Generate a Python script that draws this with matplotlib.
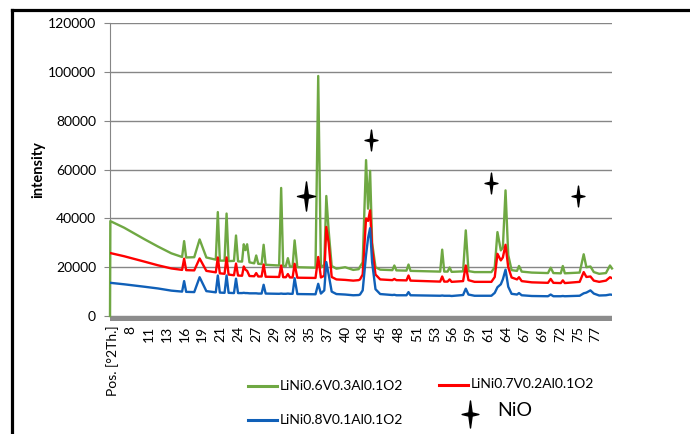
import matplotlib
matplotlib.use('Agg')
import matplotlib.pyplot as plt
import numpy as np
from matplotlib.path import Path
from matplotlib.patches import Rectangle
from matplotlib.lines import Line2D

plt.rcParams['font.family'] = ['Lato', 'DejaVu Sans']

# 2-theta positions (deg) shared by the three patterns
two_theta = [4.90, 4.95, 7.0, 10.0, 12.0, 14.0, 15.6, 15.9, 16.2, 17.4, 18.2, 19.2,
             20.6, 20.9, 21.2, 21.9, 22.2, 22.5, 23.3, 23.6, 23.9, 24.5, 24.75, 25.0,
             25.25, 25.6, 26.3, 26.6, 26.9, 27.4, 27.7, 28.0, 30.0, 30.3, 30.6, 31.0,
             31.3, 31.6, 32.0, 32.3, 32.7, 35.4, 35.8, 36.2, 36.7, 37.0, 37.35, 37.8,
             38.5, 39.8, 41.0, 41.8, 42.0, 42.4, 42.9, 43.2, 43.5, 43.8, 44.3, 45.0,
             46.8, 47.1, 47.4, 48.9, 49.2, 49.5, 53.9, 54.2, 54.5, 55.0, 55.3, 55.6,
             57.3, 57.7, 58.1, 59.0, 61.5, 62.0, 62.4, 62.9, 63.2, 63.6, 64.0, 64.5,
             65.3, 65.6, 66.0, 67.5, 69.9, 70.3, 70.7, 71.8, 72.1, 72.4, 74.6, 75.2,
             75.6, 76.2, 76.7, 77.5, 78.5, 79.1, 79.4]

green = [0, 38900, 36200, 31500, 28500, 25700, 24200, 30700, 24000, 24100, 31400, 24000,
         23100, 42600, 22700, 22700, 42000, 22500, 22600, 33000, 22400, 22300, 29400, 27000,
         29400, 22000, 21600, 24800, 21400, 21300, 29200, 21000, 20700, 52500, 20500, 20500,
         23700, 20300, 20300, 31000, 20000, 19800, 98400, 19900, 21000, 49200, 35000, 20500,
         19400, 20000, 18900, 19200, 20200, 22000, 63900, 44000, 59500, 30000, 20000, 19000,
         18800, 20700, 18700, 18600, 21100, 18500, 18200, 27200, 18200, 18200, 19900, 18100,
         18300, 35100, 18400, 18000, 18000, 20000, 34400, 26900, 28000, 51500, 25000, 18800,
         18500, 20500, 18200, 17800, 17600, 19800, 17600, 17500, 20500, 17500, 17800, 25300,
         20000, 20300, 18000, 17300, 17600, 20700, 19500]

red = [25800, 25800, 24500, 22300, 20800, 19500, 18900, 23500, 18800, 18700, 23600, 18500,
       17900, 24000, 17500, 17300, 24000, 17000, 16700, 21500, 16600, 16500, 20300, 19000,
       18500, 16400, 16300, 17600, 16200, 16200, 21100, 16100, 16000, 20700, 15900, 15900,
       17200, 15800, 15800, 21400, 15700, 15600, 24200, 15800, 16500, 36500, 30000, 16000,
       15000, 14800, 14500, 14700, 15000, 17000, 40000, 39000, 43300, 28000, 17000, 15000,
       14700, 15200, 14700, 14600, 16600, 14500, 14100, 16200, 14100, 14100, 15000, 14000,
       14300, 20700, 14700, 14000, 14000, 16000, 25500, 22800, 24000, 29200, 20000, 15800,
       15000, 15900, 14300, 13800, 13600, 15200, 13600, 13500, 14600, 13500, 14000, 18000,
       16000, 16200, 14500, 14000, 14500, 15900, 15500]

blue = [13600, 13600, 13000, 12000, 11300, 10400, 10000, 14300, 9900, 9800, 15900, 10200,
        9700, 16600, 9600, 9500, 16600, 9500, 9400, 15300, 9400, 9400, 9500, 9400,
        9400, 9300, 9300, 9300, 9200, 9200, 12800, 9200, 9100, 9200, 9100, 9100,
        9200, 9100, 9100, 15500, 9000, 8900, 13200, 9200, 10500, 22100, 17000, 10000,
        9000, 8800, 8500, 8600, 8800, 10500, 25000, 32000, 36000, 22000, 11000, 9000,
        8600, 8700, 8500, 8500, 9800, 8500, 8300, 8400, 8300, 8300, 8300, 8200,
        8600, 11200, 8800, 8300, 8300, 9500, 11800, 13000, 15000, 19000, 12000, 9100,
        8800, 9400, 8500, 8200, 8100, 8800, 8100, 8100, 8200, 8100, 8300, 9300,
        9600, 10500, 9200, 8400, 8500, 8800, 8700]

# NiO markers
nio_x = [34.0, 43.6, 61.4, 74.3]
nio_y = [49400, 72100, 54500, 49200]
nio_size = [21, 15, 15, 15]

tick_labels = ['Pos. [°2Th.]', '8', '11', '13', '16', '19', '21', '24', '27', '29', '32',
               '35', '37', '40', '43', '45', '48', '51', '53', '56', '59', '61', '64',
               '67', '69', '72', '75', '77']
series_labels = ['LiNi0.6V0.3Al0.1O2', 'LiNi0.7V0.2Al0.1O2', 'LiNi0.8V0.1Al0.1O2']
colors = ['#6FA843', '#FF0000', '#1060B8']

# four-point star marker
star = Path([(0, 1), (0.12, 0.12), (0.62, 0), (0.12, -0.12), (0, -1),
             (-0.12, -0.12), (-0.62, 0), (-0.12, 0.12), (0, 1)],
            [Path.MOVETO] + [Path.LINETO] * 7 + [Path.CLOSEPOLY])

W, H = 690, 434
fig = plt.figure(figsize=(W / 100, H / 100), dpi=100)
ax = fig.add_axes([110 / W, 1 - 316 / H, (612 - 110) / W, (316 - 23.3) / H])

ax.plot(two_theta, green, color=colors[0], lw=1.7, zorder=3, clip_on=False)
ax.plot(two_theta, red, color=colors[1], lw=1.7, zorder=3)
ax.plot(two_theta, blue, color=colors[2], lw=1.7, zorder=3)
for x, y, s in zip(nio_x, nio_y, nio_size):
    ax.plot(x, y, marker=star, ms=s, color='black', ls='none', zorder=4)

ax.set_xlim(4.9, 79.4)
ax.set_ylim(0, 120000)
ax.set_yticks(np.arange(0, 120001, 20000))
ax.grid(axis='y', color='#868686', lw=1)
ax.set_axisbelow(True)
for s in ['top', 'right', 'bottom']:
    ax.spines[s].set_visible(False)
ax.spines['left'].set_color('#868686')
ax.tick_params(axis='y', length=4, color='#868686', labelsize=10, pad=6)

ax.set_xticks([5.33 + 2.654 * k for k in range(len(tick_labels))])
ax.set_xticklabels(tick_labels, rotation=90, fontsize=10, va='top', ha='center')
ax.tick_params(axis='x', length=0, pad=7)
ax.add_patch(Rectangle((0, -5 / 292.7), 1, 5 / 292.7, transform=ax.transAxes,
                       clip_on=False, color='#8C8C8C', lw=0))

fig.text(38 / W, 1 - 170 / H, 'intensity', rotation=90, fontsize=10.5,
         fontweight='bold', ha='center', va='center')

# legend drawn by hand
leg = [(248, 385.5, 0), (439, 384.5, 1), (248, 419.5, 2)]
for lx, ly, i in leg:
    fig.add_artist(Line2D([lx / W, (lx + 29) / W], [1 - ly / H, 1 - ly / H],
                          color=colors[i], lw=2.2, transform=fig.transFigure))
    fig.text((lx + 32) / W, 1 - ly / H, series_labels[i], fontsize=10, va='center')
fig.add_artist(Line2D([470 / W], [1 - 414 / H], marker=star, ms=19.5, color='black',
                      transform=fig.transFigure))
fig.text(497 / W, 1 - 411 / H, 'NiO', fontsize=14, va='center')

# outer chart border (cropped at right and bottom)
fig.add_artist(Line2D([12 / W, 1], [1 - 9.5 / H, 1 - 9.5 / H], color='black', lw=2.3,
                      transform=fig.transFigure))
fig.add_artist(Line2D([12 / W, 12 / W], [0, 1 - 9.5 / H], color='black', lw=2.3,
                      transform=fig.transFigure))

fig.savefig('out.png', dpi=100)
